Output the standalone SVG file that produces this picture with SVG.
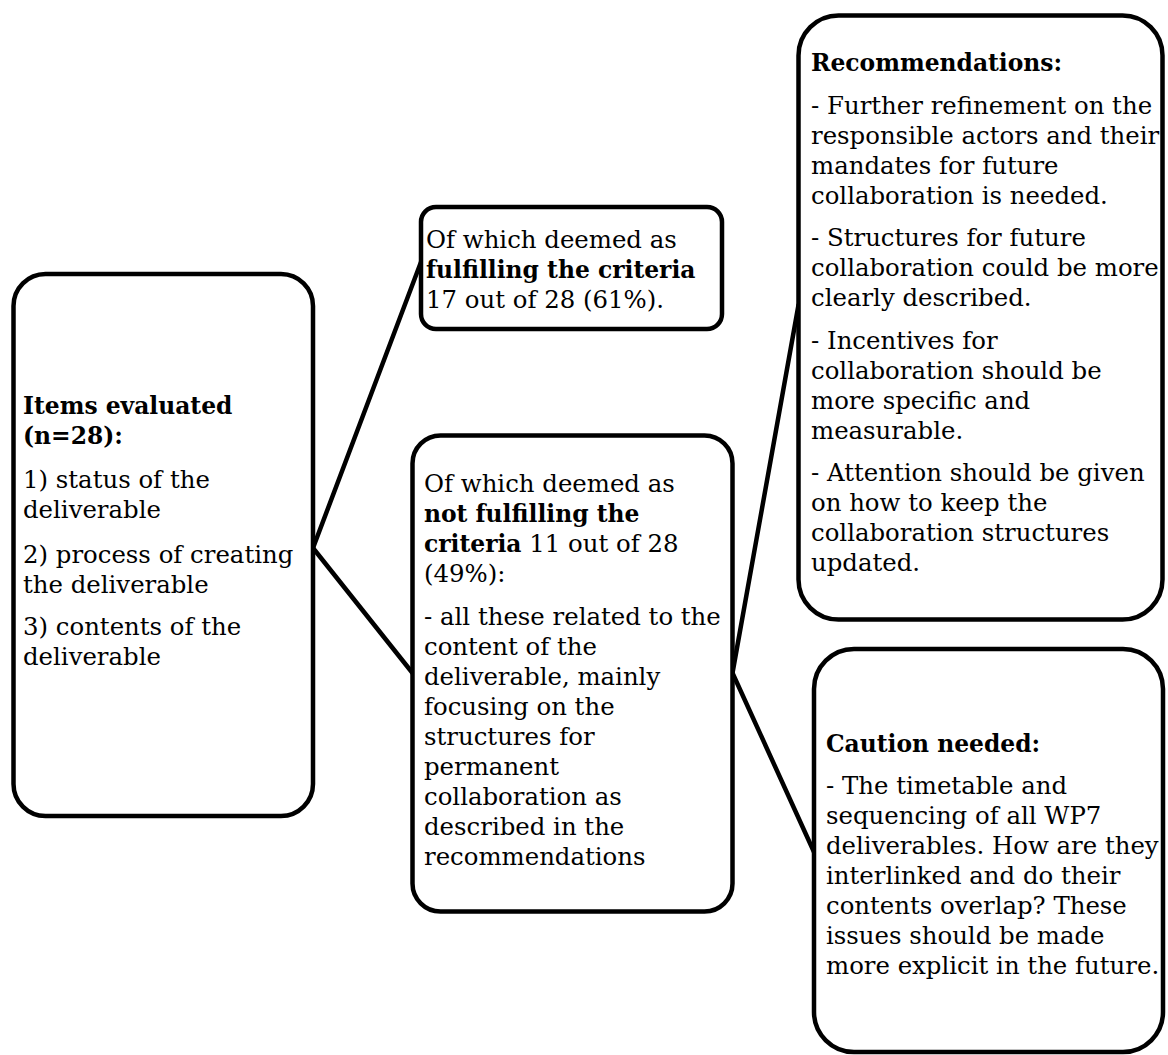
<svg xmlns="http://www.w3.org/2000/svg" width="1168" height="1055" viewBox="0 0 1168 1055">
<style>
.box{fill:#fff;stroke:#000;stroke-width:4.5}
.ln{stroke:#000;stroke-width:4.5;fill:none;stroke-linecap:round}
text{font-family:"DejaVu Serif","Liberation Serif",serif;font-size:24.4px;fill:#000}
.b{font-weight:bold;font-size:23.4px}
</style>
<rect width="1168" height="1055" fill="#fff"/>
<g id="connectors">
<line class="ln" x1="313" y1="548" x2="421" y2="262"/>
<line class="ln" x1="313" y1="548" x2="412.5" y2="673"/>
<line class="ln" x1="732.5" y1="673" x2="798.5" y2="305"/>
<line class="ln" x1="732.5" y1="673" x2="814" y2="852"/>
</g>
<g id="items-evaluated">
<rect class="box" x="13.5" y="274" width="299.5" height="542" rx="32"/>
<text x="23" y="414" class="b">Items evaluated</text>
<text x="23" y="444" class="b">(n=28):</text>
<text x="23" y="488">1) status of the</text>
<text x="23" y="518">deliverable</text>
<text x="23" y="563">2) process of creating</text>
<text x="23" y="593">the deliverable</text>
<text x="23" y="635">3) contents of the</text>
<text x="23" y="665">deliverable</text>
</g>
<g id="fulfilling">
<rect class="box" x="421" y="207" width="301" height="122" rx="15"/>
<text x="426" y="248">Of which deemed as</text>
<text x="426" y="278" class="b">fulfilling the criteria</text>
<text x="426" y="308">17 out of 28 (61%).</text>
</g>
<g id="not-fulfilling">
<rect class="box" x="412.5" y="435.5" width="320" height="476" rx="28"/>
<text x="424" y="492">Of which deemed as</text>
<text x="424" y="522" class="b">not fulfilling the</text>
<text x="424" y="552"><tspan class="b">criteria</tspan> 11 out of 28</text>
<text x="424" y="582">(49%):</text>
<text x="424" y="625">- all these related to the</text>
<text x="424" y="655">content of the</text>
<text x="424" y="685">deliverable, mainly</text>
<text x="424" y="715">focusing on the</text>
<text x="424" y="745">structures for</text>
<text x="424" y="775">permanent</text>
<text x="424" y="805">collaboration as</text>
<text x="424" y="835">described in the</text>
<text x="424" y="865">recommendations</text>
</g>
<g id="recommendations">
<rect class="box" x="798.5" y="15.5" width="364" height="604" rx="40"/>
<text x="811" y="71" class="b">Recommendations:</text>
<text x="811" y="113.5">- Further refinement on the</text>
<text x="811" y="143.5">responsible actors and their</text>
<text x="811" y="173.5">mandates for future</text>
<text x="811" y="203.5">collaboration is needed.</text>
<text x="811" y="246">- Structures for future</text>
<text x="811" y="276">collaboration could be more</text>
<text x="811" y="306">clearly described.</text>
<text x="811" y="348.5">- Incentives for</text>
<text x="811" y="378.5">collaboration should be</text>
<text x="811" y="408.5">more specific and</text>
<text x="811" y="438.5">measurable.</text>
<text x="811" y="481">- Attention should be given</text>
<text x="811" y="511">on how to keep the</text>
<text x="811" y="541">collaboration structures</text>
<text x="811" y="571">updated.</text>
</g>
<g id="caution">
<rect class="box" x="814" y="649" width="349" height="403" rx="40"/>
<text x="826" y="752" class="b">Caution needed:</text>
<text x="826" y="794">- The timetable and</text>
<text x="826" y="824">sequencing of all WP7</text>
<text x="826" y="854">deliverables. How are they</text>
<text x="826" y="884">interlinked and do their</text>
<text x="826" y="914">contents overlap? These</text>
<text x="826" y="944">issues should be made</text>
<text x="826" y="974">more explicit in the future.</text>
</g>
</svg>
